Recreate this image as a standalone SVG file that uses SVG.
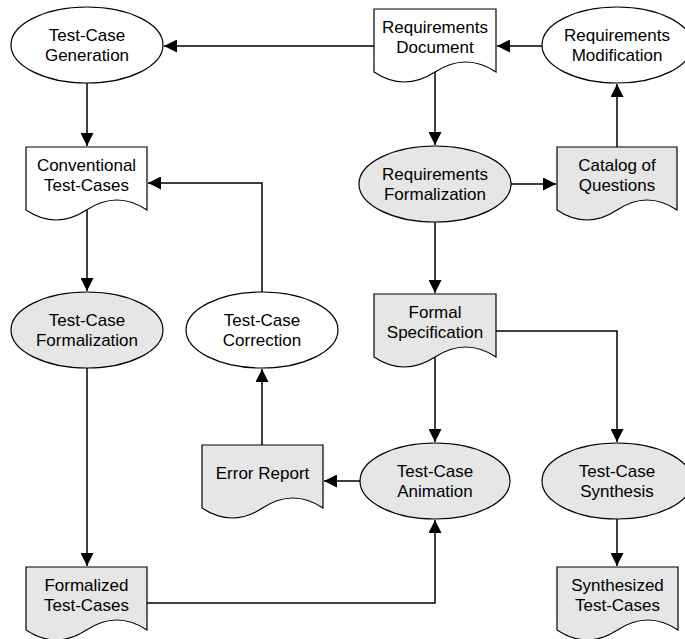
<svg xmlns="http://www.w3.org/2000/svg" width="685" height="639" viewBox="0 0 685 639">
<style>
  .shape { stroke: #000; stroke-width: 1.2; }
  .white { fill: #fff; }
  .gray { fill: #e6e6e6; }
  .conn { fill: none; stroke: #000; stroke-width: 1.5; marker-end: url(#arrow); }
  text { font-family: "Liberation Sans", Arial, sans-serif; font-size: 17px; text-anchor: middle; fill: #000; }
</style>
<defs>
  <marker id="arrow" markerUnits="userSpaceOnUse" markerWidth="13" markerHeight="13" refX="13" refY="6.5" orient="auto">
    <path d="M0,0 L13,6.5 L0,13 z" fill="#000"/>
  </marker>
</defs>
<rect width="685" height="639" fill="#fff"/>

<g id="connectors">
  <path class="conn" d="M374,46 H164"/>
  <path class="conn" d="M542,46 H497"/>
  <path class="conn" d="M87,83 V146"/>
  <path class="conn" d="M435,72 V145"/>
  <path class="conn" d="M511,184 H556"/>
  <path class="conn" d="M617,147 V84"/>
  <path class="conn" d="M87,210 V291"/>
  <path class="conn" d="M262,292 V183 H148"/>
  <path class="conn" d="M435,222 V293"/>
  <path class="conn" d="M496,331 H617 V442"/>
  <path class="conn" d="M435,357 V442"/>
  <path class="conn" d="M262,445 V369"/>
  <path class="conn" d="M360,481 H324"/>
  <path class="conn" d="M87,368 V566"/>
  <path class="conn" d="M147,603 H435 V520"/>
  <path class="conn" d="M617,519 V566"/>
</g>

<g id="tc-generation">
  <ellipse class="shape white" cx="87" cy="45" rx="76" ry="38"/>
  <text x="87" y="41">Test-Case</text>
  <text x="87" y="61">Generation</text>
</g>

<g id="req-document">
  <path class="shape white" d="M374,9 H496 V72 Q466,52 435,72 T374,72 Z"/>
  <text x="435" y="33">Requirements</text>
  <text x="435" y="53">Document</text>
</g>

<g id="req-modification">
  <ellipse class="shape white" cx="617" cy="45" rx="75" ry="38"/>
  <text x="617" y="41">Requirements</text>
  <text x="617" y="61">Modification</text>
</g>

<g id="conventional-tc">
  <path class="shape white" d="M26,147 H147 V210 Q117,190 86.5,210 T26,210 Z"/>
  <text x="86.5" y="171">Conventional</text>
  <text x="86.5" y="191">Test-Cases</text>
</g>

<g id="req-formalization">
  <ellipse class="shape gray" cx="435" cy="184" rx="76" ry="38"/>
  <text x="435" y="180">Requirements</text>
  <text x="435" y="200">Formalization</text>
</g>

<g id="catalog">
  <path class="shape gray" d="M557,147 H677 V210 Q647,190 617,210 T557,210 Z"/>
  <text x="617" y="171">Catalog of</text>
  <text x="617" y="191">Questions</text>
</g>

<g id="tc-formalization">
  <ellipse class="shape gray" cx="87" cy="330" rx="76" ry="38"/>
  <text x="87" y="326">Test-Case</text>
  <text x="87" y="346">Formalization</text>
</g>

<g id="tc-correction">
  <ellipse class="shape white" cx="262" cy="330" rx="76" ry="38"/>
  <text x="262" y="326">Test-Case</text>
  <text x="262" y="346">Correction</text>
</g>

<g id="formal-spec">
  <path class="shape gray" d="M374,294 H496 V357 Q466,337 435,357 T374,357 Z"/>
  <text x="435" y="318">Formal</text>
  <text x="435" y="338">Specification</text>
</g>

<g id="error-report">
  <path class="shape gray" d="M202,445 H323 V508 Q293,488 262.5,508 T202,508 Z"/>
  <text x="262.5" y="479">Error Report</text>
</g>

<g id="tc-animation">
  <ellipse class="shape gray" cx="435" cy="481" rx="75" ry="38"/>
  <text x="435" y="477">Test-Case</text>
  <text x="435" y="497">Animation</text>
</g>

<g id="tc-synthesis">
  <ellipse class="shape gray" cx="617" cy="481" rx="75" ry="38"/>
  <text x="617" y="477">Test-Case</text>
  <text x="617" y="497">Synthesis</text>
</g>

<g id="formalized-tc">
  <path class="shape gray" d="M26,567 H147 V630 Q117,610 86.5,630 T26,630 Z"/>
  <text x="86.5" y="591">Formalized</text>
  <text x="86.5" y="611">Test-Cases</text>
</g>

<g id="synthesized-tc">
  <path class="shape gray" d="M557,567 H678 V630 Q648,610 617.5,630 T557,630 Z"/>
  <text x="617.5" y="591">Synthesized</text>
  <text x="617.5" y="611">Test-Cases</text>
</g>
</svg>
